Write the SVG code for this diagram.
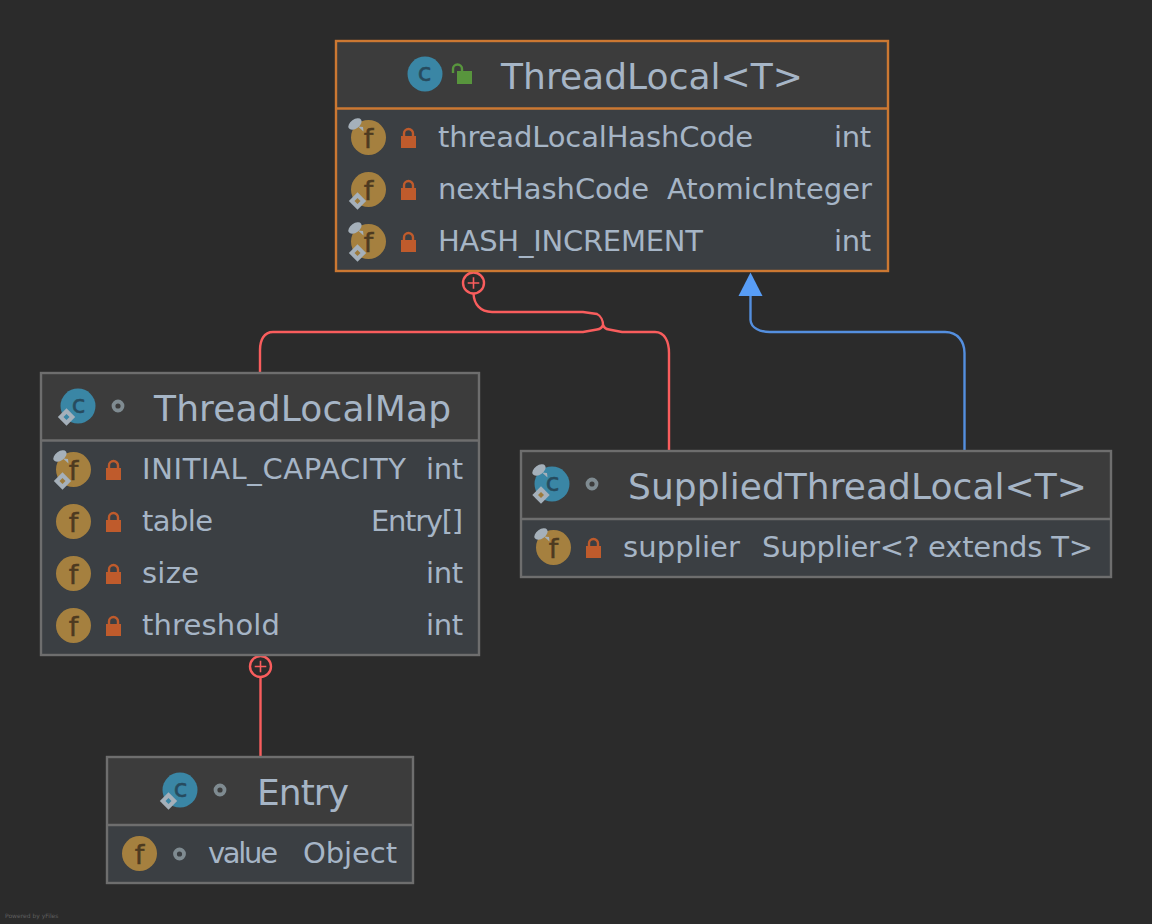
<svg xmlns="http://www.w3.org/2000/svg" width="1152" height="924" viewBox="0 0 1152 924">
<style>
text{font-family:"DejaVu Sans",sans-serif;fill:#a6b5c6}
.title{font-size:36px}
.row{font-size:29px}
.end{text-anchor:end}
.head{fill:#3c3c3c}
.body{fill:#3b3f43}
.frame{fill:none;stroke:#6e6e6e;stroke-width:2.4}
.sel{stroke:#cc7832}
.ic{font-size:27px;fill:#4d3a20;stroke:#4d3a20;stroke-width:.5;text-anchor:middle}
.icc{font-size:25px;fill:#274b5e;stroke:#274b5e;stroke-width:.5;text-anchor:middle}
.red{fill:none;stroke:#f95d5d;stroke-width:2.4}
.plus{fill:none;stroke:#f95d5d;stroke-width:1.6}
.blue{fill:none;stroke:#548fdf;stroke-width:2.4}
</style>
<defs>
<g id="lock"><path d="M-4.500-2V-4.500A4.500 4.500 0 0 1 4.500-4.500V-2" fill="none" stroke="#bf5b2c" stroke-width="2.400"/><rect x="-7.500" y="-2" width="15" height="12" fill="#bf5b2c"/></g>
<g id="dot"><circle r="4.500" fill="none" stroke="#7f8b91" stroke-width="3.800"/></g>
<g id="pin"><ellipse rx="7.500" ry="4.500" transform="rotate(-35)" fill="#a5b0ba"/><path d="M3 2.500L8 3L8.500 7.500Z" fill="#a5b0ba"/></g>
<g id="dia"><path d="M0-8.700L8.700 0L0 8.700L-8.700 0Z" fill="#a5b0ba"/><path d="M0-3L3 0L0 3L-3 0Z" fill="#9c7a3c"/></g>
<g id="diaC"><path d="M0-8.700L8.700 0L0 8.700L-8.700 0Z" fill="#a5b0ba"/><path d="M0-3L3 0L0 3L-3 0Z" fill="#3a86a5"/></g>
<g id="fld"><circle r="17.500" fill="#a5803f"/></g>
<g id="cls"><circle r="17.500" fill="#3a86a5"/></g>
</defs>
<rect width="1152" height="924" fill="#2b2b2b"/>
<g id="connectors">
<circle class="red" cx="473.500" cy="283" r="10.500"/><path class="plus" d="M467.700 283H479.300M473.500 277.200V288.800"/>
<path class="red" d="M473.500 293.500C474 304 480 312 492 312H583L597 314C601 316 603 321 603 325C602 328 600 329 597 329.500L583 332H273C264 332 260 340 260 350V372"/>
<path class="red" d="M603 325C604 328 606 329 609 329.500L622 332H655C665 332 669 342 669 353V450"/>
<circle class="red" cx="260.500" cy="666.500" r="10.500"/><path class="plus" d="M254.700 666.500H266.300M260.500 660.700V672.300"/><path class="red" d="M260.500 677V756"/>
<path class="blue" d="M750.500 295V320C751 328 760 332 770 332H945C958 332 964.500 342 964.500 353V450"/>
<path d="M750.500 272.500L762.500 296H738.500Z" fill="#589df6"/>
</g>
<g id="node-threadlocal">
<rect class="body" x="336" y="41" width="552" height="230"/><rect class="head" x="336" y="41" width="552" height="67.500"/>
<rect class="frame sel" x="336" y="41" width="552" height="230"/><path class="frame sel" d="M336 108.500H888"/>
<use href="#cls" x="425" y="74"/><text class="icc" x="424.500" y="81">c</text>
<path d="M453 73V69A4.500 4.500 0 0 1 462 69V72" fill="none" stroke="#58953d" stroke-width="2.400"/><rect x="457" y="71" width="15" height="13" fill="#58953d"/>
<text class="title" x="501" y="89" textLength="302">ThreadLocal&lt;T&gt;</text>
<use href="#fld" x="368.500" y="137.500"/><text class="ic" x="368.500" y="148">f</text><use href="#pin" x="355" y="124"/><use href="#lock" x="408.500" y="138"/>
<text class="row" x="438" y="147" textLength="315">threadLocalHashCode</text><text class="row" x="834" y="147" textLength="37">int</text>
<use href="#fld" x="368.500" y="189.500"/><text class="ic" x="368.500" y="200">f</text><use href="#dia" x="357.500" y="201"/><use href="#lock" x="408.500" y="190"/>
<text class="row" x="438" y="199" textLength="211">nextHashCode</text><text class="row" x="667" y="199" textLength="205">AtomicInteger</text>
<use href="#fld" x="368.500" y="241.500"/><text class="ic" x="368.500" y="252">f</text><use href="#pin" x="355" y="228"/><use href="#dia" x="357.500" y="253"/><use href="#lock" x="408.500" y="242"/>
<text class="row" x="438" y="251" textLength="265">HASH_INCREMENT</text><text class="row" x="834" y="251" textLength="37">int</text>
</g>
<g id="node-threadlocalmap">
<rect class="body" x="41" y="373" width="438" height="282"/><rect class="head" x="41" y="373" width="438" height="67"/>
<rect class="frame" x="41" y="373" width="438" height="282"/><path class="frame" d="M41 440.500H479"/>
<use href="#cls" x="78" y="406"/><text class="icc" x="78.500" y="413">c</text><use href="#diaC" x="66.500" y="417"/><use href="#dot" x="118" y="406"/>
<text class="title" x="154" y="421" textLength="297">ThreadLocalMap</text>
<use href="#fld" x="73.500" y="469.500"/><text class="ic" x="73.500" y="480">f</text><use href="#pin" x="60" y="456"/><use href="#dia" x="62.500" y="481"/><use href="#lock" x="113.500" y="470"/>
<text class="row" x="142" y="479" textLength="264">INITIAL_CAPACITY</text><text class="row" x="426" y="479" textLength="37">int</text>
<use href="#fld" x="73.500" y="521.500"/><text class="ic" x="73.500" y="532">f</text><use href="#lock" x="113.500" y="522"/>
<text class="row" x="142" y="531" textLength="71">table</text><text class="row" x="371" y="531" textLength="92">Entry[]</text>
<use href="#fld" x="73.500" y="573.500"/><text class="ic" x="73.500" y="584">f</text><use href="#lock" x="113.500" y="574"/>
<text class="row" x="142" y="583" textLength="57">size</text><text class="row" x="426" y="583" textLength="37">int</text>
<use href="#fld" x="73.500" y="625.500"/><text class="ic" x="73.500" y="636">f</text><use href="#lock" x="113.500" y="626"/>
<text class="row" x="142" y="635" textLength="138">threshold</text><text class="row" x="426" y="635" textLength="37">int</text>
</g>
<g id="node-supplied">
<rect class="body" x="521" y="451" width="590" height="126"/><rect class="head" x="521" y="451" width="590" height="68"/>
<rect class="frame" x="521" y="451" width="590" height="126"/><path class="frame" d="M521 519H1111"/>
<use href="#cls" x="552" y="484"/><text class="icc" x="552.500" y="491">c</text><use href="#pin" x="539" y="470"/><use href="#dia" x="541" y="495"/><use href="#dot" x="592" y="484"/>
<text class="title" x="628" y="499" textLength="459">SuppliedThreadLocal&lt;T&gt;</text>
<use href="#fld" x="553.500" y="547.500"/><text class="ic" x="553.500" y="558">f</text><use href="#pin" x="541" y="534"/><use href="#lock" x="593.500" y="548"/>
<text class="row" x="623" y="557" textLength="117">supplier</text><text class="row" x="762" y="557" textLength="331">Supplier&lt;? extends T&gt;</text>
</g>
<g id="node-entry">
<rect class="body" x="107" y="757" width="306" height="126"/><rect class="head" x="107" y="757" width="306" height="68"/>
<rect class="frame" x="107" y="757" width="306" height="126"/><path class="frame" d="M107 825H413"/>
<use href="#cls" x="180" y="790"/><text class="icc" x="180.500" y="797">c</text><use href="#diaC" x="168.500" y="801"/><use href="#dot" x="220" y="790"/>
<text class="title" x="257" y="805" textLength="92">Entry</text>
<use href="#fld" x="139.500" y="853.500"/><text class="ic" x="139.500" y="864">f</text><use href="#dot" x="179.500" y="854"/>
<text class="row" x="208" y="863" textLength="70">value</text><text class="row" x="303" y="863" textLength="94">Object</text>
</g>
<text x="5" y="918" style="font-size:6px;fill:#5f5f5f">Powered by yFiles</text>
</svg>
